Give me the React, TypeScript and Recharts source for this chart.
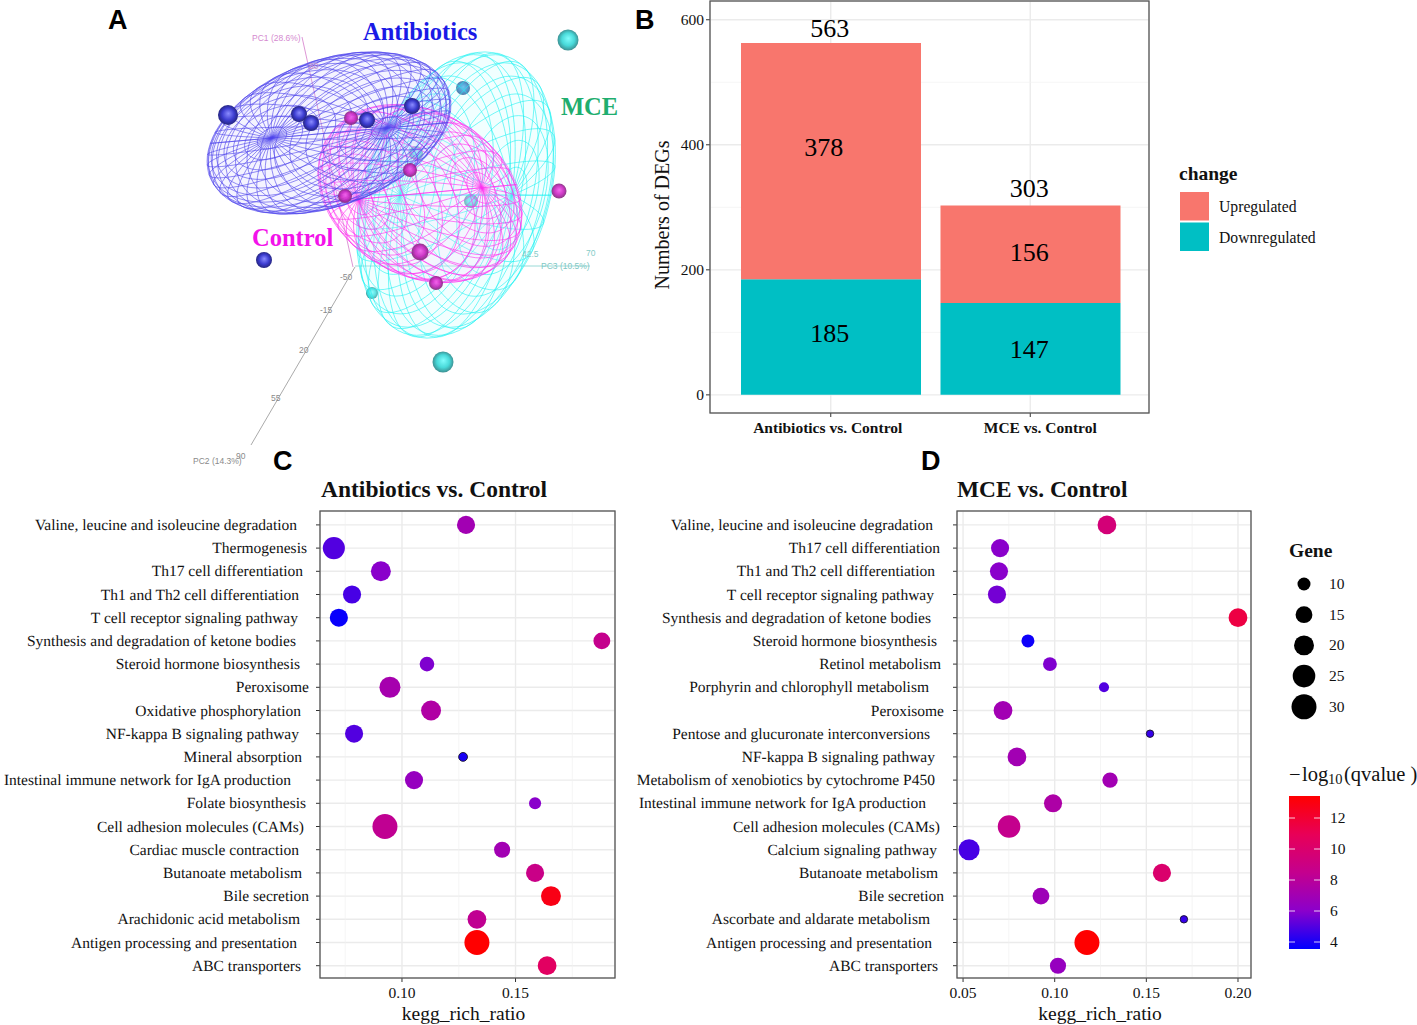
import React from "react";
import {
  BarChart, Bar, ScatterChart, Scatter, XAxis, YAxis, ZAxis, CartesianGrid, Cell,
  ReferenceDot, ReferenceLine,
} from "recharts";

const SERIF = "'Liberation Serif', 'Times New Roman', serif";
const SANS = "'Liberation Sans', Arial, sans-serif";
const INK = "#111";

/* ---------- Panel B ---------- */
const degCategories = ["Antibiotics vs. Control", "MCE vs. Control"];
const degDown = [185, 147];
const degUp = [378, 156];
const degTickNudge = [-3, 10];
const degNotes = [
  { cat: 0, at: 587, text: "563", dx: -1 },
  { cat: 0, at: 397, text: "378", dx: -7 },
  { cat: 0, at: 100, text: "185", dx: -1 },
  { cat: 1, at: 331, text: "303", dx: -1 },
  { cat: 1, at: 229, text: "156", dx: -1 },
  { cat: 1, at: 73, text: "147", dx: -1 },
];
const degTable = degCategories.map((name, i) => ({ name, down: degDown[i], up: degUp[i] }));

/* ---------- Panel C ---------- */
const pathwaysC = [
  "Valine, leucine and isoleucine degradation", "Thermogenesis", "Th17 cell differentiation",
  "Th1 and Th2 cell differentiation", "T cell receptor signaling pathway",
  "Synthesis and degradation of ketone bodies", "Steroid hormone biosynthesis", "Peroxisome",
  "Oxidative phosphorylation", "NF-kappa B signaling pathway", "Mineral absorption",
  "Intestinal immune network for IgA production", "Folate biosynthesis",
  "Cell adhesion molecules (CAMs)", "Cardiac muscle contraction", "Butanoate metabolism",
  "Bile secretion", "Arachidonic acid metabolism", "Antigen processing and presentation",
  "ABC transporters",
];
const ratioC = [.1282, .070, .0907, .078, .0722, .188, .111, .0947, .1128, .0789, .1269, .1053, .1586, .0925, .1441, .1586, .1656, .133, .133, .1639];
const geneC = [17, 24, 20, 17, 17, 15, 12, 22, 20, 17, 6, 17, 9, 30, 14, 17, 20, 18, 30, 18];
const qvalC = [7, 5, 6, 4.8, 3.7, 8.5, 5.8, 7.2, 7.6, 5, 4, 6.5, 6, 8.3, 7, 8.8, 12.8, 8.3, 13.4, 10.5];
const labelEndC = [297, 307, 303, 299, 298, 296, 300, 309, 301, 299, 302, 291, 306, 304, 299, 302, 309, 300, 297, 301];

/* ---------- Panel D ---------- */
const pathwaysD = [
  "Valine, leucine and isoleucine degradation", "Th17 cell differentiation",
  "Th1 and Th2 cell differentiation", "T cell receptor signaling pathway",
  "Synthesis and degradation of ketone bodies", "Steroid hormone biosynthesis", "Retinol metabolism",
  "Porphyrin and chlorophyll metabolism", "Peroxisome", "Pentose and glucuronate interconversions",
  "NF-kappa B signaling pathway", "Metabolism of xenobiotics by cytochrome P450",
  "Intestinal immune network for IgA production", "Cell adhesion molecules (CAMs)",
  "Calcium signaling pathway", "Butanoate metabolism", "Bile secretion",
  "Ascorbate and aldarate metabolism", "Antigen processing and presentation", "ABC transporters",
];
const ratioD = [.1285, .0702, .0696, .0685, .20, .0854, .0974, .1269, .0718, .152, .0794, .1302, .0991, .0751, .0533, .1585, .0925, .1705, .1176, .1018];
const geneD = [18, 17, 17, 17, 18, 10, 11, 7, 18, 5, 18, 13, 17, 25, 22, 17, 15, 5, 30, 14];
const qvalD = [9.5, 6, 6, 5.6, 11.5, 3.8, 5.8, 5, 7, 4.5, 7, 7, 7.5, 8.5, 4.8, 10, 6.8, 4.5, 13.4, 6.5];
const labelEndD = [933, 940, 935, 934, 931, 937, 941, 929, 944, 930, 935, 935, 926, 940, 937, 938, 944, 930, 932, 938];

const tableOf = (names: string[], ratio: number[], gene: number[], qval: number[]) =>
  names.map((name, i) => ({ name, ratio: ratio[i], gene: gene[i], qval: qval[i] }));

/* ---------- Shared legend scales ---------- */
const geneLegend = [10, 15, 20, 25, 30];
const colorbarTicks = [4, 6, 8, 10, 12];
const QMIN = 3.55;
const QMAX = 13.4;
const rampStops = ["#0000ff", "#8b00cb", "#c4008e", "#e80057", "#ff0000"];
const AREA_LOW = 43.5; // symbol area at 5 genes
const AREA_MAX = 491; // symbol area at 30 genes

const hex = (c: string) => [1, 3, 5].map((i) => parseInt(c.slice(i, i + 2), 16));
function qColor(q: number) {
  const t = Math.min(1, Math.max(0, (q - QMIN) / (QMAX - QMIN))) * (rampStops.length - 1);
  const i = Math.min(rampStops.length - 2, Math.floor(t));
  const a = hex(rampStops[i]);
  const b = hex(rampStops[i + 1]);
  const f = t - i;
  return `rgb(${a.map((v, k) => Math.round(v + (b[k] - v) * f)).join(",")})`;
}
const geneDiameter = (g: number) =>
  2 * Math.sqrt((AREA_LOW + ((g - 5) / 25) * (AREA_MAX - AREA_LOW)) / Math.PI);

/* ---------- Panel A ---------- */
const ellipsoids = [
  { group: "MCE", x: 456, y: 195, rx: 148, ry: 92, rot: -71, tilt: 36, pole: 78, rings: 15, meridians: 26, color: "#22f2f2", fill: "#b8ffff" },
  { group: "Control", x: 420, y: 193.5, rx: 108, ry: 82, rot: 30, tilt: 40, pole: -43, rings: 17, meridians: 30, color: "#ff30f0", fill: "#ffd0fb" },
  { group: "Antibiotics", x: 329, y: 133, rx: 127, ry: 73, rot: -20, tilt: 29, pole: 25, rings: 22, meridians: 40, color: "#4f44ec", fill: "#c8c4ff" },
];
const spheresCyan = [
  { x: 568, y: 40, r: 10.5 }, { x: 443, y: 362, r: 10.5 },
  { x: 416, y: 153, r: 7 }, { x: 471, y: 201, r: 7 }, { x: 372, y: 293, r: 6 },
];
const spheresSteel = [{ x: 463, y: 88, r: 7 }];
const spheresMagenta = [
  { x: 559, y: 191, r: 7.5 }, { x: 351, y: 118, r: 7 }, { x: 410, y: 170, r: 7 },
  { x: 345, y: 196, r: 7 }, { x: 420, y: 252, r: 8.5 }, { x: 436, y: 283, r: 7 },
];
const spheresBlue = [
  { x: 228, y: 115, r: 10 }, { x: 299, y: 114, r: 8 }, { x: 311, y: 123, r: 8 },
  { x: 367, y: 120, r: 8 }, { x: 412, y: 106, r: 8 }, { x: 264, y: 260, r: 8 },
];
const pcAxes = [
  { from: [302, 37], to: [353, 267], color: "#d98ad0" },
  { from: [251, 445], to: [355, 267], color: "#a0a0a0" },
  { from: [355, 266], to: [590, 266], color: "#8fd6d3" },
];
const pcLabels = [
  { text: "PC1 (28.6%)", x: 252, y: 41, color: "#d58ad0" },
  { text: "80", x: 309, y: 69, color: "#c98fc6" },
  { text: "PC2 (14.3%)", x: 193, y: 464, color: "#8a8a8a" },
  { text: "90", x: 236, y: 459, color: "#8a8a8a" },
  { text: "55", x: 271, y: 401, color: "#8a8a8a" },
  { text: "20", x: 299, y: 353, color: "#8a8a8a" },
  { text: "-15", x: 320, y: 313, color: "#8a8a8a" },
  { text: "-50", x: 340, y: 280, color: "#8a8a8a" },
  { text: "PC3 (10.5%)", x: 541, y: 269, color: "#7fc8c4" },
  { text: "42.5", x: 522, y: 257, color: "#86cbc7" },
  { text: "70", x: 586, y: 256, color: "#86cbc7" },
];
const groupLabels = [
  { text: "Antibiotics", x: 363, y: 40, color: "#1a1ae6" },
  { text: "MCE", x: 561, y: 115, color: "#1fae6f" },
  { text: "Control", x: 252, y: 246, color: "#f312ea" },
];

function wirePath(e: any, cx: number, cy: number) {
  const rad = Math.PI / 180;
  const tilt = e.tilt * rad, pole = e.pole * rad, rot = e.rot * rad;
  const pt = (phi: number, lam: number) => {
    const x = Math.cos(phi) * Math.cos(lam), y = Math.cos(phi) * Math.sin(lam), z = Math.sin(phi);
    const x1 = x * Math.cos(tilt) + z * Math.sin(tilt);
    const x2 = x1 * Math.cos(pole) - y * Math.sin(pole);
    const y2 = x1 * Math.sin(pole) + y * Math.cos(pole);
    const x3 = e.rx * x2, y3 = e.ry * y2;
    return `${(cx + x3 * Math.cos(rot) - y3 * Math.sin(rot)).toFixed(1)} ${(cy + x3 * Math.sin(rot) + y3 * Math.cos(rot)).toFixed(1)}`;
  };
  let d = "";
  for (let r = 1; r <= e.rings; r++) {
    const phi = (-90 + (180 * r) / (e.rings + 1)) * rad;
    for (let k = 0; k <= 72; k++) d += (k ? "L" : "M") + pt(phi, (k * 5) * rad);
  }
  for (let m = 0; m < e.meridians; m++) {
    const lam = ((360 * m) / e.meridians) * rad;
    for (let k = 0; k <= 36; k++) d += (k ? "L" : "M") + pt((-90 + k * 5) * rad, lam);
  }
  return d;
}

const WireShape = (p: any) => {
  const e = p.payload;
  const rot = e.rot;
  return (
    <g>
      <ellipse cx={p.cx} cy={p.cy} rx={e.rx} ry={e.ry} fill={e.fill} fillOpacity={0.2}
        transform={`rotate(${rot} ${p.cx} ${p.cy})`} stroke="none" />
      <path d={wirePath(e, p.cx, p.cy)} fill="none" stroke={e.color} strokeWidth={0.65} strokeOpacity={0.95} />
    </g>
  );
};
const sphereShape = (id: string, opacity: number) => (p: any) => (
  <circle cx={p.cx} cy={p.cy} r={p.payload.r} fill={`url(#${id})`} opacity={opacity} />
);

const gradients = [
  { id: "ballBlue", hi: "#8b8cff", mid: "#3c3cd0", lo: "#20206e" },
  { id: "ballCyan", hi: "#6ffcfc", mid: "#2fd4d4", lo: "#1f6f72" },
  { id: "ballMag", hi: "#f460ec", mid: "#c828c0", lo: "#6e2a6a" },
  { id: "ballSteel", hi: "#58b8ea", mid: "#3f86c8", lo: "#35558c" },
];

function PcaPanel() {
  const hide = { hide: true, type: "number" as const };
  return (
    <div style={{ position: "absolute", left: 150, top: 0 }}>
      <ScatterChart width={480} height={480} margin={{ top: 0, right: 0, bottom: 0, left: 0 }}>
        <defs>
          {gradients.map((g) => (
            <radialGradient key={g.id} id={g.id} cx="50%" cy="50%" r="55%" fx="52%" fy="42%">
              <stop offset="0%" stopColor={g.hi} />
              <stop offset="55%" stopColor={g.mid} />
              <stop offset="100%" stopColor={g.lo} />
            </radialGradient>
          ))}
        </defs>
        <XAxis {...hide} dataKey="x" domain={[150, 630]} />
        <YAxis {...hide} dataKey="y" domain={[0, 480]} reversed />
        {pcAxes.map((a, i) => (
          <ReferenceLine key={i} ifOverflow="visible" stroke={a.color} strokeWidth={0.9}
            segment={[{ x: a.from[0], y: a.from[1] }, { x: a.to[0], y: a.to[1] }]} />
        ))}
        <Scatter data={spheresCyan} isAnimationActive={false} shape={sphereShape("ballCyan", 0.88)} />
        <Scatter data={spheresSteel} isAnimationActive={false} shape={sphereShape("ballSteel", 1)} />
        <Scatter data={ellipsoids} isAnimationActive={false} shape={WireShape} />
        <Scatter data={spheresMagenta} isAnimationActive={false} shape={sphereShape("ballMag", 0.92)} />
        <Scatter data={spheresBlue} isAnimationActive={false} shape={sphereShape("ballBlue", 1)} />
      </ScatterChart>
    </div>
  );
}

/* ---------- Panel B chart ---------- */
const DegXTick = (p: any) => (
  <text x={p.x + degTickNudge[degCategories.indexOf(p.payload.value)]} y={p.y} dy={14} textAnchor="middle"
    fontFamily={SERIF} fontWeight={700} fontSize={15.5} fill={INK}>
    {p.payload.value}
  </text>
);

function DegPanel() {
  const tick = { fontFamily: SERIF, fontSize: 15.5, fill: INK };
  return (
    <div style={{ position: "absolute", left: 650, top: 0 }}>
      <BarChart width={520} height={450} data={degTable} margin={{ top: 1, right: 21, bottom: 0, left: 0 }}>
        <CartesianGrid stroke="#ebebeb" strokeWidth={1.4} />
        <CartesianGrid stroke="#f0f0f0" strokeWidth={0.7} vertical={false} horizontalValues={[100, 300, 500]} syncWithTicks={false} />
        <XAxis dataKey="name" type="category" height={37} padding={{ left: 21, right: 19 }} interval={0}
          axisLine={false} tickSize={4} tickLine={{ stroke: "#333" }} tick={DegXTick} />
        <YAxis width={60} type="number" domain={[-29, 630]} ticks={[0, 200, 400, 600]} allowDataOverflow
          axisLine={false} tickSize={4} tickLine={{ stroke: "#333" }} tick={tick}
          label={{ value: "Numbers of DEGs", angle: -90, position: "insideLeft", textAnchor: "middle", offset: 12, dy: 8,
            style: { fontFamily: SERIF, fontSize: 20, fill: INK } }} />
        <Bar dataKey="down" stackId="deg" fill="#00BFC4" barSize={180} isAnimationActive={false} />
        <Bar dataKey="up" stackId="deg" fill="#F8766D" barSize={180} isAnimationActive={false} />
        {degNotes.map((n, i) => (
          <ReferenceDot key={i} x={degCategories[n.cat]} y={n.at} r={0} fill="none" stroke="none" ifOverflow="visible"
            label={{ value: n.text, position: "center", dx: n.dx, style: { fontFamily: SERIF, fontSize: 26, fill: "#000" } }} />
        ))}
      </BarChart>
    </div>
  );
}

/* ---------- Panels C & D ---------- */
function PathwayPanel({ left, width, yWidth, right, domain, ticks, minor, names, ratio, gene, qval, ends }: any) {
  const data = tableOf(names, ratio, gene, qval);
  const YTick = (p: any) => {
    const idx = names.indexOf(p.payload.value);
    return (
      <text x={ends[idx] - left} y={p.y} dy={5} textAnchor="end" fontFamily={SERIF} fontSize={15.5}
        fill={INK} style={{ textRendering: "geometricPrecision" }}>
        {p.payload.value}
      </text>
    );
  };
  return (
    <div style={{ position: "absolute", left, top: 480 }}>
      <ScatterChart width={width} height={545} margin={{ top: 31, right, bottom: 0, left: 0 }}>
        <CartesianGrid stroke="#ebebeb" strokeWidth={1.4} />
        <CartesianGrid stroke="#f0f0f0" strokeWidth={0.7} horizontal={false} verticalValues={minor} syncWithTicks={false} />
        <XAxis type="number" dataKey="ratio" domain={domain} ticks={ticks} allowDataOverflow height={47}
          tickFormatter={(v: number) => v.toFixed(2)} axisLine={false} tickSize={4} tickLine={{ stroke: "#333" }}
          tick={{ fontFamily: SERIF, fontSize: 15.5, fill: INK }} tickMargin={5}
          label={{ value: "kegg_rich_ratio", position: "insideBottom", offset: 5, dx: -4, style: { fontFamily: SERIF, fontSize: 19.5, fill: INK } }} />
        <YAxis type="category" dataKey="name" width={yWidth} interval={0} padding={{ top: 2.3, bottom: 0.7 }}
          reversed axisLine={false} tickSize={4} tickLine={{ stroke: "#333" }} tick={YTick} />
        <ZAxis type="number" dataKey="gene" domain={[5, 30]} range={[AREA_LOW, AREA_MAX]} />
        <Scatter data={data} isAnimationActive={false}>
          {data.map((d: any, i: number) => (
            <Cell key={i} fill={qColor(d.qval)} stroke={d.gene < 7 ? "#15102a" : "none"} strokeWidth={d.gene < 7 ? 0.9 : 0} />
          ))}
        </Scatter>
      </ScatterChart>
    </div>
  );
}

/* ---------- Overlay: frames, titles, legends ---------- */
const frames = [
  { x: 710, y: 1, w: 439, h: 412 },
  { x: 320, y: 511, w: 295, h: 467 },
  { x: 957, y: 511, w: 294, h: 467 },
];
const panelLetters = [
  { t: "A", x: 108, y: 29 }, { t: "B", x: 635, y: 29 }, { t: "C", x: 273, y: 470 }, { t: "D", x: 921, y: 470 },
];
const changeLegend = [
  { label: "Upregulated", color: "#F8766D" },
  { label: "Downregulated", color: "#00BFC4" },
];

function Overlay() {
  const serif = { fontFamily: SERIF, fill: INK };
  return (
    <svg width={1417} height={1025} style={{ position: "absolute", left: 0, top: 0, pointerEvents: "none" }}>
      <defs>
        <linearGradient id="qRamp" x1="0" y1="1" x2="0" y2="0">
          {rampStops.map((c, i) => <stop key={i} offset={`${(i / (rampStops.length - 1)) * 100}%`} stopColor={c} />)}
        </linearGradient>
      </defs>
      {frames.map((f, i) => (
        <rect key={i} x={f.x} y={f.y} width={f.w} height={f.h} fill="none" stroke="#555" strokeWidth={1.3} />
      ))}
      {panelLetters.map((l) => (
        <text key={l.t} x={l.x} y={l.y} fontFamily={SANS} fontWeight={700} fontSize={27} fill="#000">{l.t}</text>
      ))}
      {groupLabels.map((l) => (
        <text key={l.text} x={l.x} y={l.y} fontFamily={SERIF} fontWeight={700} fontSize={24.5} fill={l.color}>{l.text}</text>
      ))}
      {pcLabels.map((l, i) => (
        <text key={i} x={l.x} y={l.y} fontFamily={SANS} fontSize={8.5} fill={l.color}>{l.text}</text>
      ))}
      <text x={321} y={497} {...serif} fontWeight={700} fontSize={23.5}>Antibiotics vs. Control</text>
      <text x={957} y={497} {...serif} fontWeight={700} fontSize={23.4}>MCE vs. Control</text>

      <text x={1179} y={180} {...serif} fontWeight={700} fontSize={19.5}>change</text>
      {changeLegend.map((c, i) => (
        <g key={c.label}>
          <rect x={1180} y={192 + i * 30.5} width={29} height={28.5} fill={c.color} />
          <text x={1219} y={212 + i * 30.5} {...serif} fontSize={15.7}>{c.label}</text>
        </g>
      ))}

      <text x={1289} y={557} {...serif} fontWeight={700} fontSize={19.5}>Gene</text>
      {geneLegend.map((g, i) => (
        <g key={g}>
          <circle cx={1304} cy={584 + i * 30.7} r={geneDiameter(g) / 2} fill="#000" />
          <text x={1329} y={589 + i * 30.7} {...serif} fontSize={15.5}>{g}</text>
        </g>
      ))}

      <text y={781} {...serif} fontSize={20.5}>
        <tspan x={1289}>{"\u2212"}</tspan>
        <tspan x={1302}>log</tspan>
        <tspan x={1328} fontSize={14.5} dy={3}>10</tspan>
        <tspan x={1344} dy={-3}>(qvalue )</tspan>
      </text>
      <rect x={1289} y={796} width={31} height={153} fill="url(#qRamp)" />
      {colorbarTicks.map((t) => {
        const y = 942 - (t - 4) * 15.5;
        return (
          <g key={t}>
            <line x1={1289} x2={1295} y1={y} y2={y} stroke="#fff" strokeWidth={0.8} />
            <line x1={1314} x2={1320} y1={y} y2={y} stroke="#fff" strokeWidth={0.8} />
            <text x={1330} y={y + 5} {...serif} fontSize={15.5}>{t}</text>
          </g>
        );
      })}
    </svg>
  );
}

export default function App() {
  return (
    <div style={{ position: "absolute", left: 0, top: 0, width: 1417, height: 1025, background: "#fff", overflow: "hidden" }}>
      <PcaPanel />
      <DegPanel />
      <PathwayPanel left={0} width={640} yWidth={320} right={25} domain={[0.0639, 0.1938]} ticks={[0.10, 0.15]}
        minor={[0.075, 0.125, 0.175]} names={pathwaysC} ratio={ratioC} gene={geneC} qval={qvalC} ends={labelEndC} />
      <PathwayPanel left={600} width={660} yWidth={357} right={9} domain={[0.0467, 0.2071]} ticks={[0.05, 0.10, 0.15, 0.20]}
        minor={[0.075, 0.125, 0.175]} names={pathwaysD} ratio={ratioD} gene={geneD} qval={qvalD} ends={labelEndD} />
      <Overlay />
    </div>
  );
}
